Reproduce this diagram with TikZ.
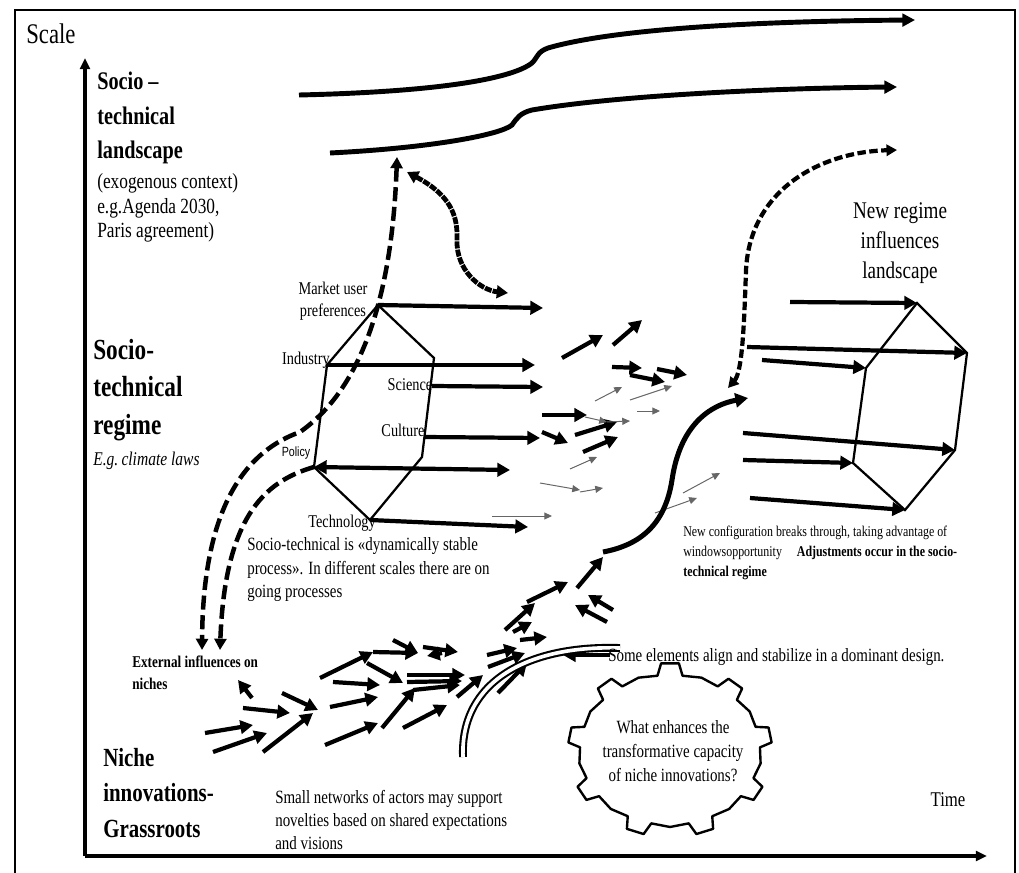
\documentclass[tikz,border=0pt]{standalone}
\usepackage{fontspec}
\setmainfont{Liberation Serif}[FakeStretch=0.8]
\setsansfont{Liberation Sans}[FakeStretch=0.8]
\usetikzlibrary{arrows.meta,positioning,calc}
\newcommand{\fsz}[2]{\fontsize{#1}{#2}\selectfont}

\tikzset{
  fat/.style={line width=3pt,-{Triangle[length=9pt,width=9.5pt]}},
  faint/.style={draw=black!60,line width=0.7pt,-{Triangle[length=5.5pt,width=5pt]}},
  land/.style={line width=3.5pt,-{Triangle[length=9pt,width=9pt]}},
  longdash/.style={line width=3.2pt,dash pattern=on 10pt off 4pt},
  finedash/.style={line width=3.4pt,dash pattern=on 5pt off 0.8pt},
  hexa/.style={line width=1.6pt,line join=miter},
  txt/.style={inner sep=0pt,align=left,anchor=west},
}

\begin{document}
\begin{tikzpicture}[x=0.025cm,y=-0.025cm]
    \useasboundingbox (0,0) rectangle (1019,873);

    % Frame and axes
    \draw[line width=0.8pt] (15,873) -- (15,10) -- (1015,10) -- (1015,873);
    \coordinate (orig) at (85,856);
    \coordinate (ytop) at (85,58);
    \coordinate (xend) at (987,856);
    \draw[line width=2.2pt,-{Triangle[length=8pt,width=7pt]}] (orig) -- (ytop);
    \draw[line width=2.2pt,-{Triangle[length=8pt,width=7pt]}] (orig) -- (xend);
    \node[txt,font=\fsz{20.2}{23}] (scale) at (26,34) {Scale};
    \node[font=\fsz{14.9}{17}] (time) at (948,800) {Time};

    % Level titles
    \node[txt,font=\bfseries\fsz{18}{24.5}] (landt) at (97,118) {Socio –\\technical\\landscape};
    \node[txt,font=\fsz{15.4}{17.4}] (lands) at (97,208) {(exogenous context)\\e.g.Agenda 2030,\\Paris agreement)};
    \node[txt,font=\bfseries\fsz{20.7}{26.5}] (regt) at (93,390) {Socio-\\technical\\regime};
    \node[txt,font=\itshape\fsz{13.8}{15}] (regs) at (93,461) {E.g.\,climate laws};
    \node[txt,font=\bfseries\fsz{18.6}{25}] (nicht) at (103,793) {Niche\\innovations-\\Grassroots};
    \node[align=center,font=\fsz{17}{21.3}] (newreg) at (900,243) {New regime\\influences\\landscape};

    % Landscape lines
    \draw[land] (299,95) .. controls (430,92) and (510,80) .. (532,63)
        .. controls (538,57) and (537,52) .. (548,48)
        .. controls (620,27) and (780,21) .. (915,20);
    \draw[land] (330,153) .. controls (430,148) and (500,135) .. (512,125)
        .. controls (517,118) and (520,113) .. (532,110)
        .. controls (620,95) and (780,88) .. (897,87);

    % Regime hexagon (left)
    \coordinate (h1) at (378,305);
    \coordinate (h2) at (434,358);
    \coordinate (h3) at (422,457);
    \coordinate (h4) at (370,520);
    \coordinate (h5) at (314,467);
    \coordinate (h6) at (327,365);
    \draw[hexa] (h1) -- (h2) -- (h3) -- (h4) -- (h5) -- (h6) -- cycle;
    \node[align=center,font=\fsz{12.75}{16}] (mkt) at (333,301) {Market user\\preferences};
    \node[font=\fsz{12.75}{14}] (ind) at (306,360) {Industry};
    \node[font=\fsz{12.75}{14}] (sci) at (410,385) {Science};
    \node[font=\fsz{12.75}{14}] (cul) at (403,430) {Culture};
    \node[font=\sffamily\fsz{9.5}{11}] (pol) at (296,453) {Policy};
    \node[font=\fsz{12.75}{14}] (tech) at (342,523) {Technology};
    \draw[fat] (h1) -- (543,308);
    \draw[fat] (h6) -- (535,365);
    \draw[fat] (432,386) -- (543,387);
    \draw[fat] (424,437) -- (540,438);
    \draw[fat,{Triangle[length=9pt,width=9.5pt]}-{Triangle[length=9pt,width=9.5pt]}] (h5) -- (510,470);
    \draw[fat] (h4) -- (528,527);

    % Regime hexagon (right)
    \coordinate (r1) at (917,303);
    \coordinate (r2) at (967,353);
    \coordinate (r3) at (955,450);
    \coordinate (r4) at (905,510);
    \coordinate (r5) at (853,463);
    \coordinate (r6) at (866,368);
    \draw[hexa] (r1) -- (r2) -- (r3) -- (r4) -- (r5) -- (r6) -- cycle;
    \draw[fat] (790,302) -- (r1);
    \draw[fat] (747,347) -- (r2);
    \draw[fat] (762,360) -- (r6);
    \draw[fat] (743,433) -- (r3);
    \draw[fat] (743,460) -- (r5);
    \draw[fat] (750,498) -- (r4);

    % Dashed influences
    \draw[longdash,{Triangle[length=8pt,width=8.5pt]}-{Triangle[length=8pt,width=8.5pt]}]
        (397,157) .. controls (392,300) and (360,390) .. (300,432)
        .. controls (250,450) and (203,500) .. (202,650);
    \draw[longdash,-{Triangle[length=8pt,width=8.5pt]}]
        (h5) .. controls (270,480) and (225,510) .. (220,650);
    \draw[finedash,{Triangle[length=8pt,width=9pt]}-{Triangle[length=8pt,width=9pt]}]
        (407,172) .. controls (450,195) and (458,215) .. (457,240)
        .. controls (456,270) and (480,290) .. (508,293);
    \draw[line width=3pt,dash pattern=on 6pt off 2.5pt,{Triangle[length=7.5pt,width=8pt]}-{Triangle[length=7.5pt,width=8pt]}]
        (728,388) .. controls (742,372) and (744,330) .. (746,270)
        .. controls (750,190) and (820,152) .. (897,150);

    % Moving arrows between the levels
    \draw[fat] (562,358) -- (603,335);
    \draw[fat] (613,345) -- (642,320);
    \draw[fat] (612,367) -- (642,368);
    \draw[fat] (630,375) -- (665,382);
    \draw[fat] (657,369) -- (687,375);
    \draw[fat] (542,415) -- (587,415);
    \draw[fat] (542,432) -- (568,443);
    \draw[fat] (575,435) -- (617,422);
    \draw[fat] (583,452) -- (618,437);
    \draw[faint] (595,401) -- (622,387);
    \draw[faint] (630,400) -- (672,386);
    \draw[faint] (637,411) -- (660,411);
    \draw[faint] (585,417) -- (607,422);
    \draw[faint] (607,422) -- (630,421);
    \draw[faint] (570,469) -- (597,457);
    \draw[faint] (540,483) -- (580,490);
    \draw[faint] (580,492) -- (603,488);
    \draw[faint] (492,516) -- (552,516);
    \draw[faint] (683,493) -- (720,473);
    \draw[faint] (655,513) -- (697,498);

    % Breakthrough
    \draw[line width=3.6pt,-{Triangle[length=9pt,width=10pt]}] (603,552) .. controls (640,545) and (665,525) .. (672,480)
        .. controls (680,425) and (710,405) .. (748,398);
    \node[txt,font=\fsz{10.6}{14.2}] (conf) at (683,553) {New configuration breaks through, taking advantage of\\windowsopportunity\quad\textbf{Adjustments occur in the socio-}\\\textbf{technical regime}};

    % Niche arrows
    \draw[fat] (205,733) -- (253,725);
    \draw[fat] (213,752) -- (267,733);
    \draw[fat] (243,708) -- (290,713);
    \draw[fat] (282,693) -- (318,710);
    \draw[fat] (263,752) -- (313,713);
    \draw[fat] (252,698) -- (238,680);
    \draw[fat] (320,678) -- (373,652);
    \draw[fat] (333,682) -- (380,685);
    \draw[fat] (330,707) -- (378,697);
    \draw[fat] (325,745) -- (378,723);
    \draw[fat] (367,663) -- (403,683);
    \draw[fat] (373,652) -- (418,653);
    \draw[fat] (393,640) -- (418,653);
    \draw[fat] (423,647) -- (458,652);
    \draw[fat] (442,653) -- (427,656);
    \draw[fat] (382,728) -- (415,688);
    \draw[fat] (403,728) -- (447,705);
    \draw[fat] (407,675) -- (465,675);
    \draw[fat] (407,682) -- (462,681);
    \draw[fat] (413,690) -- (460,685);
    \draw[fat] (457,697) -- (483,675);
    \draw[fat] (487,655) -- (517,648);
    \draw[fat] (520,640) -- (547,637);
    \draw[fat] (488,667) -- (525,653);
    \draw[fat] (498,693) -- (527,663);
    \draw[fat] (610,655) -- (563,655);
    \draw[fat] (613,610) -- (588,595);
    \draw[fat] (607,622) -- (575,605);
    \draw[fat] (505,630) -- (535,603);
    \draw[fat] (513,632) -- (532,622);
    \draw[fat] (527,602) -- (568,582);
    \draw[fat] (577,588) -- (603,557);

    % Dominant design tube
    \draw[line width=1.5pt,double=white,double distance=2.6pt] (463,757) .. controls (460,680) and (530,645) .. (620,648);

    % Gear
    \begin{scope}[shift={(670,750)}]
        \draw[line width=1.7pt,line join=round] (262:90 and 75)
            \foreach \a in {270,310,...,590} { -- (\a-8:90 and 75) -- (\a-5:102 and 87) -- (\a+5:102 and 87) -- (\a+8:90 and 75) -- (\a+20:92 and 77) } -- cycle;
    \end{scope}
    \node[align=center,font=\fsz{13.3}{17}] (gtxt) at (673,751) {What enhances the\\transformative capacity\\of niche innovations?};

    % Texts
    \node[txt,font=\fsz{13.3}{16.7}] (dyn) at (247,570) {Socio-technical is «dynamically stable\\process». In different scales there are on\\going processes};
    \node[txt,font=\fsz{13.3}{15}] (align) at (608,657) {Some elements align and stabilize in a dominant design.};
    \node[txt,font=\bfseries\fsz{11.7}{15.6}] (ext) at (132,673) {External influences on\\niches};
    \node[txt,font=\fsz{13.3}{16.3}] (small) at (275,820) {Small networks of actors may support\\novelties based on shared expectations\\and visions};
\end{tikzpicture}
\end{document}
